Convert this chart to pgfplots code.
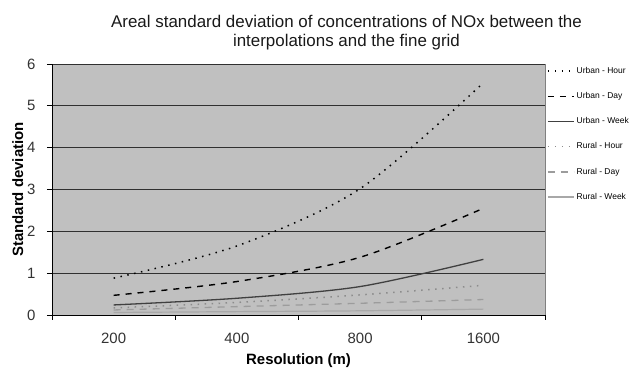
\documentclass[border=0pt]{standalone}
\usepackage{pgfplots}
\pgfplotsset{compat=1.18}
\usepackage{fontspec}
\setmainfont{Liberation Sans}
\definecolor{plotbg}{HTML}{C0C0C0}
\definecolor{gridc}{HTML}{303030}
\definecolor{uweek}{HTML}{404040}
\definecolor{rhour}{HTML}{8C8C8C}
\definecolor{rday}{HTML}{9C9C9C}
\definecolor{rweek}{HTML}{A8A8A8}
\begin{document}
\begin{tikzpicture}
\begin{axis}[
  scale only axis,
  width=493bp, height=251bp,
  xmin=-0.5, xmax=3.5, ymin=0, ymax=6,
  xtick={0,1,2,3},
  xticklabels={200,400,800,1600},
  minor xtick={-0.5,0.5,1.5,2.5,3.5},
  ytick={0,1,2,3,4,5,6},
  axis x line=bottom, axis y line=left,
  axis line style={-,black,line width=0.9bp},
  axis background/.style={fill=plotbg,draw=gray,line width=0.8bp},
  tick align=outside,
  major x tick style={draw=none},
  minor tick length=5bp,
  major tick length=5bp,
  tick style={black,line width=0.8bp},
  ymajorgrids,
  major grid style={gridc,line width=0.9bp},
  /pgf/number format/assume math mode=true,
  tick label style={font=\fontsize{15}{17}\selectfont,color=black!80},
  xticklabel style={yshift=-10bp},
  yticklabel style={xshift=-8bp},
  xlabel={\textbf{Resolution (m)}},
  ylabel={\textbf{Standard deviation}},
  label style={font=\fontsize{15}{17}\selectfont},
  xlabel style={yshift=-3bp},
  ylabel style={yshift=-3bp},
  title={Areal standard deviation of concentrations of NOx between the\\interpolations and the fine grid},
  title style={font=\fontsize{17}{20}\selectfont,align=center,xshift=48bp,yshift=4bp,text=black!90},
  legend style={at={(1,1)},anchor=north west,xshift=2bp,yshift=-1bp,draw=none,fill=none,
    font=\fontsize{8.5}{10}\selectfont,inner sep=0pt,row sep=13.6bp,
    /tikz/every even column/.append style={column sep=1.5bp}},
  legend cell align=left,
  legend image code/.code={\draw[#1] (0bp,0bp) -- (26bp,0bp);},
]
\addplot[black,line width=1.5bp,dash pattern=on 1.5bp off 5.5bp,smooth] coordinates {(0,0.88) (1,1.65) (2,3.02) (3,5.55)};
\addlegendentry{Urban - Hour}
\addplot[black,line width=1.4bp,dash pattern=on 6bp off 6bp,smooth] coordinates {(0,0.47) (1,0.80) (2,1.38) (3,2.55)};
\addlegendentry{Urban - Day}
\addplot[uweek,line width=1.3bp,smooth] coordinates {(0,0.24) (1,0.40) (2,0.68) (3,1.33)};
\addlegendentry{Urban - Week}
\addplot[rhour,line width=1.5bp,dash pattern=on 1.5bp off 5.5bp,smooth] coordinates {(0,0.17) (1,0.30) (2,0.48) (3,0.71)};
\addlegendentry{Rural - Hour}
\addplot[rday,line width=1.3bp,dash pattern=on 7bp off 6bp,smooth] coordinates {(0,0.12) (1,0.20) (2,0.28) (3,0.37)};
\addlegendentry{Rural - Day}
\addplot[rweek,line width=1.2bp,smooth] coordinates {(0,0.06) (1,0.08) (2,0.10) (3,0.14)};
\addlegendentry{Rural - Week}
\end{axis}
\pgfresetboundingbox
\path ([xshift=-52bp,yshift=-54bp]current axis.south west) rectangle ([xshift=84bp,yshift=64bp]current axis.north east);
\end{tikzpicture}
\end{document}
